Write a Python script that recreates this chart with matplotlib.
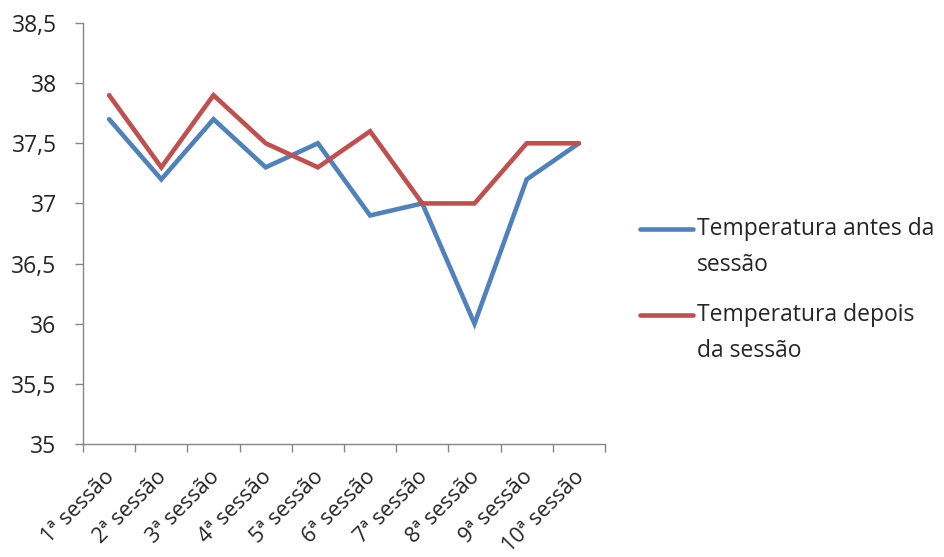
import matplotlib
matplotlib.use("Agg")
import matplotlib.pyplot as plt
from matplotlib.ticker import FixedLocator, FuncFormatter
from matplotlib.lines import Line2D
from matplotlib.transforms import ScaledTranslation
import numpy as np

sessions = ["1ª sessão", "2ª sessão", "3ª sessão", "4ª sessão", "5ª sessão",
            "6ª sessão", "7ª sessão", "8ª sessão", "9ª sessão", "10ª sessão"]
temp_before = [37.7, 37.2, 37.7, 37.3, 37.5, 36.9, 37.0, 36.0, 37.2, 37.5]
temp_after = [37.9, 37.3, 37.9, 37.5, 37.3, 37.6, 37.0, 37.0, 37.5, 37.5]
label_before = "Temperatura antes da\nsessão"
label_after = "Temperatura depois\nda sessão"

plt.rcParams["font.family"] = ["Open Sans", "DejaVu Sans"]

blue = "#4F81BD"
red = "#C0504D"
axis_grey = "#868686"
text_col = "#262626"
FS = 16.5

W, H = 944, 557
fig = plt.figure(figsize=(W / 100, H / 100), dpi=100)
ax = fig.add_axes([83 / W, 1 - 444 / H, (605 - 83) / W, (444 - 23) / H])

x = np.arange(len(sessions))
ax.plot(x, temp_before, color=blue, lw=3.3, solid_capstyle="round", solid_joinstyle="miter")
ax.plot(x, temp_after, color=red, lw=3.3, solid_capstyle="round", solid_joinstyle="miter")

ax.set_xlim(-0.5, len(sessions) - 0.5)
ax.set_ylim(35, 38.5)

for side in ("top", "right"):
    ax.spines[side].set_visible(False)
for side in ("left", "bottom"):
    ax.spines[side].set_color(axis_grey)
    ax.spines[side].set_linewidth(1.0)

# y axis
ax.set_yticks(np.arange(35, 38.51, 0.5))
ax.yaxis.set_major_formatter(FuncFormatter(lambda v, p: (f"{v:g}").replace(".", ",")))
ax.tick_params(axis="y", direction="out", length=6, width=1, color=axis_grey,
               labelsize=FS, labelcolor=text_col, pad=13)

# x axis: labels on categories, tick marks between them
ax.set_xticks(x)
ax.set_xticklabels(sessions, rotation=45, ha="right", rotation_mode="anchor")
ax.xaxis.set_minor_locator(FixedLocator(np.arange(-0.5, len(sessions), 1.0)))
ax.tick_params(axis="x", which="major", length=0, labelsize=15.5, labelcolor=text_col, pad=16)
ax.tick_params(axis="x", which="minor", direction="out", length=6, width=1, color=axis_grey)
shift = ScaledTranslation(-5 / 100, 0, fig.dpi_scale_trans)
for lab in ax.get_xticklabels():
    lab.set_transform(lab.get_transform() + shift)

# legend, drawn entry by entry so the wrapped labels keep the wide line spacing
entries = [(label_before, blue, 229), (label_after, red, 315)]
line_gap = 36
for label, color, ytop in entries:
    fig.add_artist(Line2D([640 / W, 693 / W], [1 - ytop / H, 1 - ytop / H],
                          transform=fig.transFigure, color=color, lw=3.3,
                          solid_capstyle="round"))
    for i, part in enumerate(label.split("\n")):
        fig.text(697 / W, 1 - (ytop + i * line_gap) / H, part, fontsize=FS,
                 color=text_col, ha="left", va="center")

fig.savefig("out.png", dpi=100, facecolor="white")
